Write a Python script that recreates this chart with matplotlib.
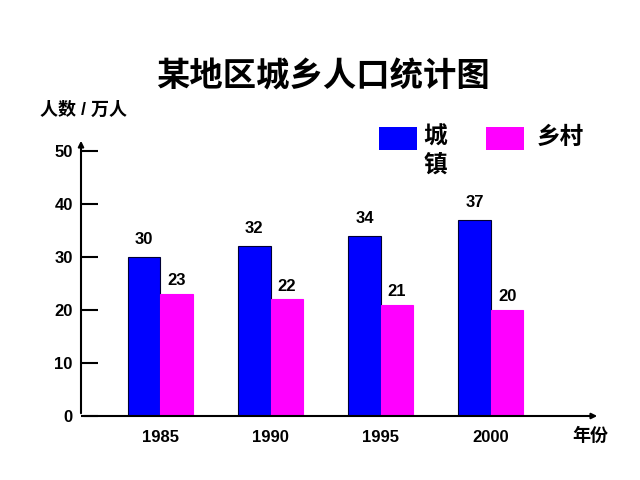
import matplotlib.pyplot as plt
from matplotlib.patches import Rectangle
import numpy as np

plt.rcParams['font.family'] = ['Liberation Sans', 'Noto Sans CJK SC']
plt.rcParams['font.weight'] = 'bold'

years = ["1985", "1990", "1995", "2000"]
urban = [30, 32, 34, 37]
rural = [23, 22, 21, 20]

fig = plt.figure(figsize=(6.4, 4.8), dpi=100)
ax = fig.add_axes([81 / 640, 64 / 480, 519 / 640, 278 / 480])

x = np.arange(len(years))
w = 0.295
ax.bar(x - w / 2, urban, w, color="#0000ff", edgecolor="#000033", linewidth=0.8)
ax.bar(x + w / 2, rural, w, color="#ff00ff", edgecolor="#ff00ff", linewidth=0.8)

for i in range(len(years)):
    ax.text(x[i] - w / 2, urban[i] + 1.9, str(urban[i]), ha="center", va="bottom", fontsize=12, fontweight="bold")
    ax.text(x[i] + w / 2, rural[i] + 1.1, str(rural[i]), ha="center", va="bottom", fontsize=12, fontweight="bold")

ax.set_xlim(-0.72, 3.99)
ax.set_ylim(0, 52.45)

for s in ["top", "right", "left", "bottom"]:
    ax.spines[s].set_visible(False)

# axes with arrows
ax.annotate("", xy=(0, 1), xytext=(0, 0), xycoords="axes fraction",
            arrowprops=dict(arrowstyle="-|>", color="black", lw=1.5, mutation_scale=8))
ax.annotate("", xy=(1, 0), xytext=(0, 0), xycoords="axes fraction",
            arrowprops=dict(arrowstyle="-|>", color="black", lw=1.5, mutation_scale=8))

ax.set_yticks([0, 10, 20, 30, 40, 50])
ax.tick_params(axis="y", direction="in", length=12, width=1.5, labelsize=12, pad=6)
ax.set_xticks(x)
ax.set_xticklabels(years)
ax.tick_params(axis="x", length=0, labelsize=12, pad=10)
for lab in ax.get_yticklabels() + ax.get_xticklabels():
    lab.set_fontweight("bold")

fig.text(323 / 640, 1 - 77 / 480, "某地区城乡人口统计图", ha="center", va="center", fontsize=24, fontweight="bold")
fig.text(40 / 640, 1 - 110 / 480, "人数 / 万人", ha="left", va="center", fontsize=13, fontweight="bold")
fig.text(590 / 640, 1 - 436 / 480, "年份", ha="center", va="center", fontsize=13, fontweight="bold")

# legend
fig.patches.append(Rectangle((379 / 640, 1 - 150 / 480), 38 / 640, 23 / 480, transform=fig.transFigure,
                             facecolor="#0000ff", edgecolor="none"))
fig.patches.append(Rectangle((486 / 640, 1 - 150 / 480), 38 / 640, 23 / 480, transform=fig.transFigure,
                             facecolor="#ff00ff", edgecolor="none"))
fig.text(435 / 640, 1 - 137 / 480, "城", ha="center", va="center", fontsize=17, fontweight="bold")
fig.text(435 / 640, 1 - 165 / 480, "镇", ha="center", va="center", fontsize=17, fontweight="bold")
fig.text(560 / 640, 1 - 137 / 480, "乡村", ha="center", va="center", fontsize=17, fontweight="bold")

fig.savefig("out.png", dpi=100)
